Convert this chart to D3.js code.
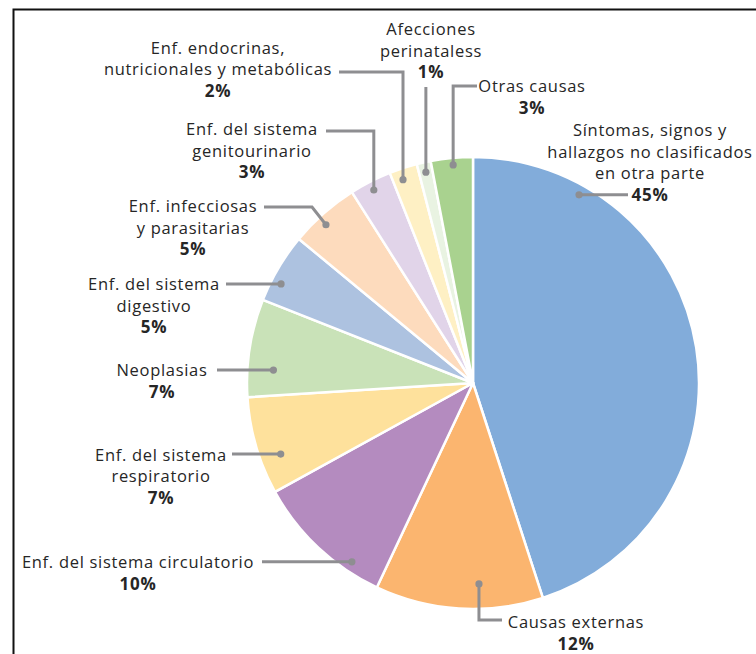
<!DOCTYPE html>
<html>
<head>
<meta charset="utf-8">
<script src="https://cdn.jsdelivr.net/npm/d3@7"></script>
<style>
  html, body { margin: 0; padding: 0; background: #fff; }
  svg { display: block; }
  text { font-family: "Open Sans", "Noto Sans", sans-serif; fill: #262626; }
</style>
</head>
<body>
<svg id="chart" width="756" height="654"></svg>
<script>
// ---- data ----
const categories = [
  "Síntomas, signos y hallazgos no clasificados en otra parte",
  "Causas externas",
  "Enf. del sistema circulatorio",
  "Enf. del sistema respiratorio",
  "Neoplasias",
  "Enf. del sistema digestivo",
  "Enf. infecciosas y parasitarias",
  "Enf. del sistema genitourinario",
  "Enf. endocrinas, nutricionales y metabólicas",
  "Afecciones perinataless",
  "Otras causas"
];
const values = [45, 12, 10, 7, 7, 5, 5, 3, 2, 1, 3];
const pctLabels = ["45%", "12%", "10%", "7%", "7%", "5%", "5%", "3%", "2%", "1%", "3%"];
const labelLines = [
  ["Síntomas, signos y", "hallazgos no clasificados", "en otra parte"],
  ["Causas externas"],
  ["Enf. del sistema circulatorio"],
  ["Enf. del sistema", "respiratorio"],
  ["Neoplasias"],
  ["Enf. del sistema", "digestivo"],
  ["Enf. infecciosas", "y parasitarias"],
  ["Enf. del sistema", "genitourinario"],
  ["Enf. endocrinas,", "nutricionales y metabólicas"],
  ["Afecciones", "perinataless"],
  ["Otras causas"]
];
const colors = ["#82acda", "#fbb56f", "#b48bbf", "#fee19c", "#c9e2b8", "#adc2e0",
                "#fddbbd", "#e1d4e9", "#fef0c4", "#e9f3e2", "#a9d28f"];

// ---- layout (annotation placement) ----
const cx = 473, cy = 383, R = 226;
// dot: polar angle (deg, clockwise from top) and radius (px)
const dotPolar = [[29.4,216],[178.3,201],[214.1,216],[249.7,205],[273.7,200],[297.3,216],
                  [317.1,216],[332.8,217],[341,215],[347.4,216],[354.8,219]];
// text block: center x, first baseline
const textPos = [[650,136],[576,628],[138,568],[161,460.5],[162,376],[154,290],
                 [193,212],[252,135],[218,53.5],[431,35],[532,92]];
// leader route: type and target
const routes = [
  {t:"h", x:628},
  {t:"vh", y:620, x:502},
  {t:"h", x:262},
  {t:"h", x:232},
  {t:"h", x:217},
  {t:"h", x:226},
  {t:"dh", ex:312, y:207, x:264},
  {t:"vh", y:131, x:326},
  {t:"vh", y:72, x:339},
  {t:"v", y:87},
  {t:"vh", y:86, x:477}
];
const lineH = 21.5;

const svg = d3.select("#chart");

// frame
svg.append("path")
  .attr("d", "M13.5,670V9.5H770")
  .attr("fill", "none").attr("stroke", "#111").attr("stroke-width", 2);

const pie = d3.pie().sort(null).value(d => d).startAngle(0).endAngle(2 * Math.PI);
const arcs = pie(values);
const arc = d3.arc().innerRadius(0).outerRadius(R);

const g = svg.append("g").attr("transform", `translate(${cx},${cy})`);
g.selectAll("path.slice").data(arcs).join("path")
  .attr("class", "slice")
  .attr("d", arc)
  .attr("fill", (d, i) => colors[i])
  .attr("stroke", "#fff").attr("stroke-width", 2.5).attr("stroke-linejoin", "round");

const toXY = (deg, r) => {
  const a = deg * Math.PI / 180;
  return [cx + r * Math.sin(a), cy - r * Math.cos(a)];
};

const leaderColor = "#8e8e91";
const lg = svg.append("g");
categories.forEach((c, i) => {
  const [dx, dy] = toXY(dotPolar[i][0], dotPolar[i][1]);
  const r = routes[i];
  let pts;
  if (r.t === "h") pts = [[dx, dy], [r.x, dy]];
  else if (r.t === "vh") pts = [[dx, dy], [dx, r.y], [r.x, r.y]];
  else if (r.t === "v") pts = [[dx, dy], [dx, r.y]];
  else pts = [[dx, dy], [r.ex, r.y], [r.x, r.y]];
  lg.append("path")
    .attr("d", d3.line()(pts))
    .attr("fill", "none").attr("stroke", leaderColor).attr("stroke-width", 3)
    .attr("stroke-linejoin", "miter");
  lg.append("circle").attr("cx", dx).attr("cy", dy).attr("r", 3.6).attr("fill", leaderColor);

  const [tx, ty] = textPos[i];
  const t = svg.append("text").attr("text-anchor", "middle")
    .style("font-size", "16.5px").style("letter-spacing", "0.7px");
  labelLines[i].forEach((ln, k) => {
    t.append("tspan").attr("x", tx).attr("y", ty + k * lineH).text(ln);
  });
  t.append("tspan").attr("x", tx).attr("y", ty + labelLines[i].length * lineH)
    .style("font-weight", "700").style("font-size", "17px").text(pctLabels[i]);
});
</script>
</body>
</html>
